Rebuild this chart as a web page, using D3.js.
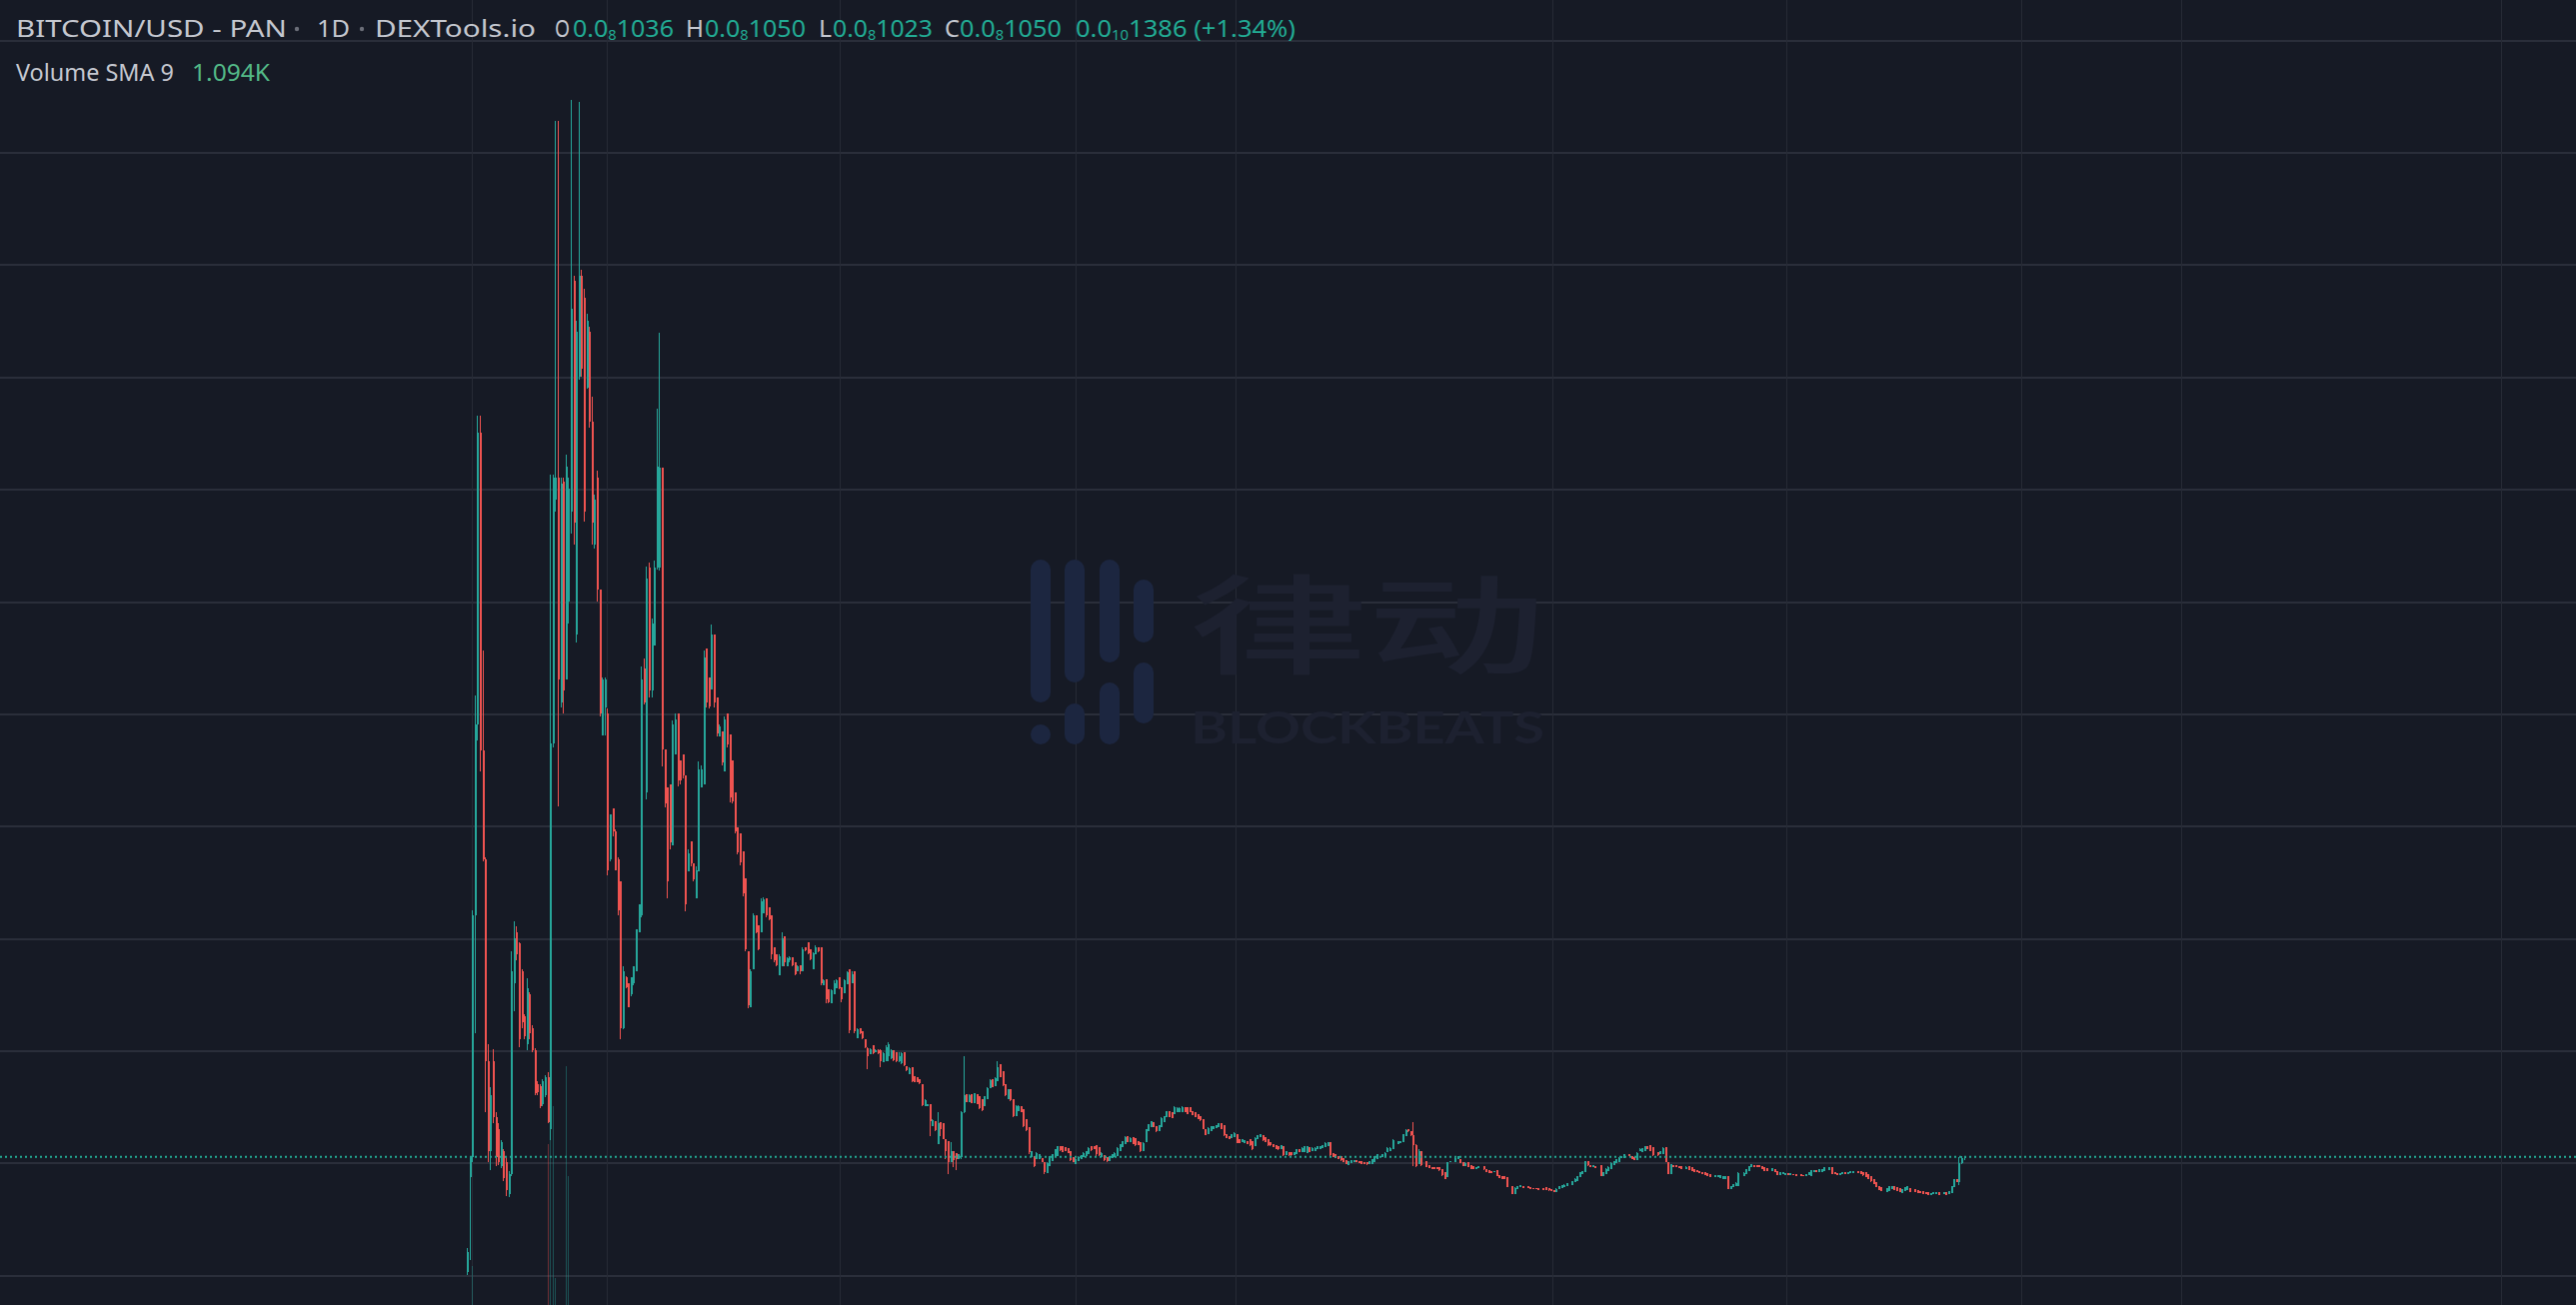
<!DOCTYPE html>
<html><head><meta charset="utf-8">
<script src="https://cdn.jsdelivr.net/npm/d3@7"></script>
<style>
html,body{margin:0;padding:0;background:#161a25;overflow:hidden}
svg{display:block}
</style></head><body>
<svg id="chart" width="2577" height="1306"></svg>
<script>
// ---------------- DATA (price in units of 1e-9 USD) ----------------
// [open, high, low, close]
const candlesLaunch = [
[0.02,0.24,0.0,0.2],[0.87,1.05,0.13,1.05],[1.05,3.25,1.0,3.2],[3.2,5.16,2.15,4.9],[4.9,7.65,4.76,7.5],
[7.5,7.65,4.48,4.67],[4.67,5.56,3.68,3.7],[3.7,3.72,1.45,1.9],[1.9,2.05,1.0,1.1],[1.1,1.67,0.93,1.6],
[1.9,2.01,1.35,1.4],[1.4,1.45,0.97,1.05],[1.3,1.35,0.98,1.0],[0.97,1.2,0.95,1.18],[1.1,1.12,0.83,0.86],
[1.0,1.05,0.7,0.75],[0.72,0.92,0.69,0.9],[0.9,2.88,0.88,2.7],[2.6,3.15,2.35,3.0],[3.05,3.1,2.8,2.85],
[2.95,2.96,2.03,2.1],[2.7,2.72,2.2,2.25],[2.3,2.32,2.1,2.12],[2.05,2.64,2.0,2.55],[2.5,2.52,2.1,2.15],
[2.2,2.22,1.98,2.0],[2.0,2.02,1.6,1.62],[1.7,1.72,1.6,1.63],[1.68,1.7,1.48,1.5],[1.52,1.74,1.5,1.72],
[1.6,1.78,1.58,1.76],[1.76,1.8,1.35,1.36],[1.3,7.13,1.2,4.73],[4.73,7.13,4.7,7.1],[6.9,10.28,6.8,7.1],
[7.1,10.28,4.17,5.3],[5.1,7.1,5.05,7.05],[7.06,7.1,5.0,5.2],[5.3,7.3,5.3,7.2],[6.0,7.1,5.8,7.0],
[6.8,10.46,6.6,8.6],[8.85,8.9,6.5,6.7],[5.7,8.5,5.63,8.4],[8.0,10.45,7.97,8.9],[8.9,8.95,8.0,8.07],
[8.7,8.78,6.71,6.8],[7.9,8.56,7.89,8.5],[8.4,8.44,7.54,7.6],[7.6,7.82,6.5,6.7],[6.5,6.95,6.47,6.9],
[7.1,7.16,6.0,6.1],[6.1,6.1,4.97,5.0],[4.8,5.32,4.8,5.3],[5.05,5.32,4.8,5.3],[5.0,5.04,3.56,3.6],
[3.7,4.1,3.68,4.1],[4.15,4.15,3.9,3.95],[3.95,3.97,3.6,3.6],[3.7,3.72,3.2,3.25],[3.5,3.5,2.1,2.2],
[2.2,2.75,2.19,2.7],[2.65,2.66,2.55,2.56],[2.6,2.6,2.38,2.38],[2.5,2.65,2.48,2.65],[2.6,2.75,2.58,2.75],
[2.7,3.08,2.7,3.08],[3.05,3.3,3.05,3.3],[3.2,5.42,3.18,5.3],[5.4,5.49,5.08,5.1],[4.3,6.31,4.23,6.2],
[6.3,6.34,5.14,5.2],[5.2,5.84,5.14,5.8],[5.6,6.36,5.6,6.3],[6.3,7.71,6.28,7.2],[6.3,8.39,6.27,7.19]
];
const candlesSlide = [
[7.19,7.19,4.53,4.68],[4.68,4.68,4.16,4.2],[4.34,4.34,3.35,3.5],[4.37,4.37,3.79,3.85],[3.82,4.94,3.82,4.9],
[4.63,5.0,4.63,4.95],[5.0,5.0,4.35,4.4],[4.58,4.58,4.37,4.4],[4.63,4.63,4.42,4.45],[4.45,4.45,3.24,3.3],
[3.59,3.79,3.59,3.75],[3.86,3.86,3.64,3.66],[3.66,3.66,3.5,3.52],[3.35,3.64,3.35,3.6],[3.59,4.57,3.59,4.5],
[4.34,4.54,4.34,4.5],[4.37,5.56,4.37,5.5],[5.58,5.58,5.05,5.1],[5.32,5.32,5.04,5.06],[5.21,5.79,5.21,5.7],
[5.7,5.7,5.05,5.1],[5.14,5.14,4.79,4.82],[4.79,4.9,4.79,4.88],[4.84,4.84,4.54,4.56],[4.48,4.97,4.48,4.95],
[5.0,5.0,4.7,4.72],[4.81,4.81,4.21,4.25],[4.58,4.58,4.2,4.22],[4.3,4.3,3.93,3.95],[3.98,3.98,3.74,3.76],
[3.93,3.93,3.65,3.67],[3.77,3.77,3.37,3.4],[3.53,3.53,2.88,2.9],[2.88,2.88,2.37,2.4],[2.38,2.72,2.38,2.7],
[2.72,3.22,2.72,3.2],[3.2,3.2,3.04,3.05],[3.11,3.11,2.89,2.9],[3.05,3.35,3.05,3.33],[3.22,3.36,3.22,3.34],
[3.35,3.35,3.18,3.2],[3.27,3.27,3.16,3.17],[3.2,3.2,2.81,2.85],[2.92,2.92,2.78,2.8],[2.85,2.85,2.75,2.76],
[2.67,2.85,2.67,2.84],[2.75,3.05,2.75,3.0],[3.01,3.01,2.75,2.78],[2.75,2.83,2.75,2.82],[2.8,2.84,2.78,2.83],
[2.83,2.83,2.75,2.76],[2.78,2.78,2.67,2.68],[2.7,2.76,2.7,2.75],[2.76,2.76,2.68,2.7],[2.7,2.92,2.7,2.9],
[2.92,2.92,2.88,2.89],[2.96,2.96,2.85,2.86],[2.9,2.9,2.8,2.81],[2.72,2.87,2.72,2.86],[2.85,2.93,2.85,2.92],
[2.92,2.92,2.87,2.88],[2.92,2.92,2.58,2.6],[2.58,2.63,2.58,2.62],[2.63,2.63,2.42,2.45],[2.54,2.54,2.42,2.43],
[2.42,2.54,2.42,2.53],[2.5,2.62,2.5,2.6],[2.55,2.63,2.55,2.62],[2.65,2.65,2.54,2.55],[2.56,2.56,2.43,2.45],
[2.51,2.63,2.51,2.62],[2.59,2.7,2.59,2.69],[2.72,2.72,2.15,2.18],[2.6,2.7,2.6,2.68],[2.7,2.7,2.15,2.17],
[2.11,2.2,2.11,2.19]
];
const candlesDrift = [
[2.2,2.2,2.14,2.15],[2.17,2.17,2.1,2.11],[2.1,2.1,2.02,2.03],[2.02,2.03,1.83,1.95],[1.96,2.02,1.96,2.01],
[2.04,2.04,1.96,1.97],[1.98,2.01,1.98,2.0],[2.0,2.01,1.96,1.97],[2.0,2.01,1.85,1.9],[1.89,1.98,1.89,1.97],
[1.9,2.04,1.9,2.03],[1.95,2.07,1.9,2.05],[1.93,2.01,1.92,2.0],[2.0,2.0,1.9,1.91],[1.98,1.98,1.89,1.9],
[1.9,1.98,1.89,1.95],[1.88,1.98,1.875,1.97],[1.98,1.98,1.86,1.87],[1.86,1.86,1.816,1.82],[1.786,1.845,1.786,1.84],
[1.845,1.845,1.712,1.72],[1.77,1.77,1.712,1.715],[1.757,1.757,1.712,1.714],[1.742,1.742,1.7,1.702],[1.7,1.7,1.504,1.51],
[1.5,1.56,1.5,1.555],[1.5,1.52,1.5,1.518],[1.52,1.52,1.237,1.37],[1.326,1.386,1.326,1.38],[1.371,1.371,1.282,1.285],
[1.163,1.445,1.163,1.35],[1.356,1.356,1.237,1.3],[1.35,1.35,1.208,1.21],[1.208,1.208,1.03,1.1],[1.193,1.193,0.896,1.0],
[1.0,1.178,1.0,1.1],[1.104,1.104,0.956,1.02],[1.08,1.08,0.93,1.03],[1.03,1.074,1.03,1.07],[1.05,1.46,1.03,1.45],
[1.45,1.943,1.44,1.6],[1.608,1.608,1.534,1.54],[1.534,1.608,1.534,1.6],[1.608,1.608,1.528,1.53],[1.53,1.62,1.53,1.615],
[1.608,1.608,1.519,1.52],[1.593,1.593,1.475,1.48],[1.564,1.564,1.46,1.465],[1.504,1.593,1.504,1.59],[1.564,1.668,1.564,1.665],
[1.66,1.74,1.66,1.735],[1.742,1.742,1.668,1.67],[1.682,1.757,1.682,1.755],[1.727,1.9,1.727,1.85],[1.875,1.875,1.757,1.76],
[1.816,1.816,1.682,1.69],[1.697,1.697,1.593,1.6],[1.564,1.653,1.564,1.65],[1.653,1.653,1.549,1.555],[1.564,1.564,1.4,1.41],
[1.41,1.51,1.41,1.5],[1.46,1.51,1.46,1.505],[1.504,1.504,1.445,1.45],[1.475,1.475,1.312,1.32],[1.386,1.386,1.282,1.29],
[1.312,1.312,1.074,1.09],[1.045,1.104,1.045,1.1],[1.06,1.06,0.956,0.97],[1.03,1.089,1.03,1.085],[1.03,1.074,1.03,1.07],
[1.036,1.036,1.0,1.005],[1.0,1.0,0.896,0.91],[0.905,1.0,0.905,0.995],[0.97,1.06,0.97,1.055],[1.015,1.074,1.015,1.07],
[1.045,1.119,1.045,1.115],[1.06,1.148,1.06,1.145],[1.148,1.148,1.104,1.106],[1.148,1.148,1.089,1.09],[1.134,1.134,1.104,1.105],
[1.125,1.125,1.083,1.085],[1.104,1.104,1.015,1.02],[1.045,1.045,1.0,1.002],[0.985,1.036,0.985,1.033],[1.015,1.054,1.015,1.05],
[1.03,1.066,1.03,1.063],[1.045,1.089,1.045,1.087],[1.06,1.104,1.06,1.1],[1.074,1.134,1.074,1.13],[1.148,1.148,1.104,1.106],
[1.148,1.148,1.119,1.12],[1.154,1.154,1.06,1.07],[1.134,1.134,1.06,1.062],[1.045,1.089,1.045,1.087],[1.066,1.066,1.015,1.018],
[1.045,1.045,1.006,1.008],[1.015,1.06,1.015,1.058],[1.036,1.074,1.036,1.072],[1.045,1.089,1.045,1.087],[1.06,1.134,1.06,1.13],
[1.104,1.163,1.104,1.16],[1.134,1.193,1.134,1.19],[1.163,1.231,1.163,1.228],[1.231,1.231,1.178,1.18],[1.178,1.223,1.178,1.22],
[1.223,1.223,1.163,1.165],[1.214,1.214,1.148,1.15],[1.193,1.193,1.154,1.156],[1.178,1.178,1.095,1.1],[1.104,1.178,1.104,1.175],
[1.178,1.297,1.178,1.295],[1.282,1.341,1.282,1.338],[1.312,1.371,1.312,1.368],[1.356,1.356,1.312,1.314],[1.326,1.326,1.273,1.276],
[1.282,1.332,1.282,1.33],[1.312,1.4,1.312,1.397],[1.356,1.415,1.356,1.412],[1.4,1.46,1.4,1.457],[1.46,1.46,1.4,1.403],
[1.445,1.445,1.392,1.395],[1.43,1.498,1.43,1.495],[1.445,1.49,1.445,1.487],[1.445,1.49,1.445,1.487],[1.445,1.498,1.445,1.495],
[1.49,1.49,1.45,1.452],[1.49,1.49,1.43,1.432],[1.49,1.49,1.445,1.447],[1.46,1.46,1.42,1.422],[1.445,1.445,1.4,1.402],
[1.43,1.43,1.386,1.388],[1.415,1.415,1.371,1.373],[1.386,1.386,1.297,1.3],[1.297,1.297,1.243,1.245],[1.252,1.312,1.252,1.31],
[1.282,1.326,1.282,1.324],[1.297,1.326,1.297,1.324],[1.303,1.332,1.303,1.33],[1.312,1.35,1.312,1.348],[1.35,1.35,1.297,1.3],
[1.332,1.332,1.237,1.24],[1.252,1.252,1.214,1.216],[1.237,1.237,1.208,1.21],[1.214,1.252,1.214,1.25],[1.223,1.267,1.223,1.265],
[1.252,1.252,1.172,1.175],[1.208,1.208,1.172,1.174],[1.178,1.208,1.178,1.206],[1.172,1.202,1.172,1.2],[1.193,1.193,1.163,1.165],
[1.208,1.208,1.148,1.15],[1.193,1.193,1.113,1.116],[1.148,1.223,1.148,1.22],[1.208,1.243,1.208,1.24],[1.223,1.252,1.223,1.25],
[1.243,1.243,1.193,1.195],[1.223,1.223,1.178,1.18],[1.208,1.208,1.148,1.15],[1.178,1.178,1.148,1.15],[1.163,1.163,1.134,1.136],
[1.154,1.154,1.119,1.121],[1.148,1.148,1.113,1.115],[1.119,1.154,1.119,1.152],[1.148,1.148,1.06,1.065],[1.066,1.104,1.066,1.1],
[1.095,1.095,1.06,1.062],[1.089,1.089,1.06,1.062],[1.066,1.095,1.066,1.093],[1.074,1.119,1.074,1.117],[1.119,1.119,1.089,1.091],
[1.089,1.134,1.089,1.132],[1.095,1.148,1.095,1.146],[1.083,1.148,1.083,1.146],[1.134,1.134,1.089,1.091],[1.104,1.134,1.104,1.132],
[1.104,1.134,1.104,1.132],[1.119,1.148,1.119,1.146],[1.119,1.148,1.119,1.146],[1.125,1.154,1.125,1.152],[1.134,1.178,1.134,1.176],
[1.148,1.184,1.148,1.182],[1.178,1.178,1.06,1.065],[1.083,1.083,1.045,1.047],[1.074,1.074,1.036,1.038],[1.06,1.06,1.03,1.032],
[1.054,1.054,1.015,1.017],[1.036,1.036,1.0,1.002],[1.024,1.024,0.985,0.987],[0.98,1.015,0.98,1.013],[0.994,1.024,0.994,1.022],
[1.0,1.024,1.0,1.022],[1.018,1.018,1.0,1.002],[1.015,1.015,0.994,0.996],[1.015,1.015,0.985,0.987],[1.006,1.006,0.985,0.987],
[1.0,1.0,0.98,0.982],[0.985,1.015,0.985,1.013],[0.985,1.03,0.985,1.028],[1.0,1.06,1.0,1.058],[1.03,1.074,1.03,1.072]
];
// null = day without a printed candle
const candlesTail = [
null,
[1.05,1.074,1.045,1.07],[1.045,1.089,1.045,1.085],[1.089,1.134,1.089,1.13],[1.104,1.134,1.104,1.13],[1.119,1.208,1.119,1.2],
null,
[1.163,1.193,1.163,1.19],[1.172,1.193,1.172,1.19],[1.178,1.252,1.178,1.25],[1.237,1.297,1.237,1.29],[1.297,1.297,1.273,1.28],
[1.282,1.282,1.237,1.24],[1.24,1.356,0.97,1.15],[1.15,1.16,0.956,0.97],[0.985,1.119,0.985,1.1],[1.104,1.104,0.97,0.98],
null,
[1.015,1.015,0.956,0.96],[0.976,0.976,0.947,0.95],[0.956,0.956,0.941,0.942],[0.956,0.956,0.941,0.942],[0.955,0.956,0.941,0.943],
[0.956,0.956,0.926,0.93],[0.941,0.941,0.881,0.885],[0.911,0.911,0.852,0.855],[0.867,1.006,0.867,1.0],[1.0,1.015,1.0,1.012],
null,
[1.0,1.045,1.0,1.04],[1.03,1.06,1.03,1.055],[1.03,1.03,0.994,0.996],[1.006,1.006,0.964,0.966],[0.97,1.0,0.97,0.998],
[1.0,1.0,0.956,0.958],[0.976,0.976,0.941,0.944],[0.964,0.964,0.941,0.943],[0.941,0.961,0.941,0.96],[0.947,0.97,0.947,0.968],
null,
[0.964,0.964,0.935,0.937],[0.941,0.941,0.917,0.918],[0.932,0.932,0.905,0.907],[0.926,0.926,0.905,0.906],[0.911,0.926,0.911,0.925],
[0.932,0.932,0.876,0.88],[0.887,0.887,0.858,0.86],[0.881,0.881,0.852,0.854],[0.876,0.876,0.852,0.853],[0.867,0.867,0.778,0.78],
null,
[0.792,0.792,0.718,0.72],[0.718,0.778,0.718,0.775],[0.763,0.792,0.763,0.79],[0.778,0.798,0.778,0.796],[0.792,0.792,0.775,0.776],
null,
[0.786,0.786,0.769,0.77],[0.778,0.778,0.763,0.764],[0.775,0.775,0.763,0.764],[0.772,0.772,0.76,0.761],[0.769,0.769,0.757,0.758],
null,
[0.769,0.769,0.757,0.758],[0.778,0.778,0.757,0.758],[0.769,0.769,0.748,0.75],[0.763,0.763,0.748,0.749],[0.757,0.757,0.739,0.74],
[0.739,0.769,0.739,0.767],[0.763,0.786,0.763,0.785],[0.769,0.798,0.769,0.796],[0.781,0.804,0.781,0.802],[0.792,0.816,0.792,0.815],
null,
[0.798,0.837,0.798,0.835],[0.822,0.858,0.822,0.856],[0.837,0.881,0.837,0.88],[0.867,0.911,0.867,0.91],[0.896,0.926,0.896,0.925],
[0.911,1.015,0.911,1.01],[1.015,1.015,0.97,0.972],[0.976,0.976,0.956,0.957],[0.956,0.976,0.956,0.975],[0.97,0.97,0.947,0.948],
null,
[0.976,0.976,0.876,0.88],[0.876,0.911,0.876,0.91],[0.896,0.947,0.896,0.945],[0.926,0.964,0.926,0.962],[0.941,1.0,0.941,0.998],
[0.976,1.015,0.976,1.013],[0.994,1.03,0.994,1.028],[1.006,1.045,1.006,1.043],[1.036,1.06,1.036,1.058],[1.042,1.071,1.042,1.07],
null,
[1.071,1.071,1.054,1.055],[1.06,1.06,1.03,1.031],[1.045,1.045,1.024,1.025],[1.024,1.089,1.024,1.087],[1.104,1.125,1.104,1.123],
[1.089,1.125,1.089,1.124],[1.104,1.148,1.104,1.146],[1.148,1.148,1.119,1.12],[1.154,1.154,1.104,1.105],[1.134,1.134,1.06,1.062],
null,
[1.089,1.089,1.06,1.061],[1.074,1.104,1.074,1.102],[1.074,1.134,1.074,1.132],[1.134,1.134,1.0,1.002],[1.0,1.0,0.896,0.9],
[0.896,0.985,0.896,0.983],[0.976,0.976,0.956,0.957],[0.976,0.976,0.956,0.957],[0.97,0.97,0.947,0.948],[0.964,0.964,0.941,0.942],
null,
[0.941,0.964,0.941,0.962],[0.964,0.964,0.935,0.936],[0.956,0.956,0.926,0.927],[0.941,0.941,0.917,0.918],[0.932,0.932,0.911,0.912],
[0.926,0.926,0.905,0.906],[0.917,0.917,0.896,0.897],[0.911,0.911,0.887,0.888],[0.902,0.902,0.881,0.882],[0.896,0.896,0.867,0.868],
null,
[0.867,0.887,0.867,0.886],[0.867,0.887,0.867,0.886],[0.858,0.887,0.858,0.885],[0.852,0.881,0.852,0.88],[0.852,0.881,0.852,0.88],
[0.881,0.881,0.763,0.765],[0.763,0.792,0.763,0.79],[0.778,0.807,0.778,0.805],[0.792,0.822,0.792,0.82],[0.792,0.911,0.792,0.908],
null,
[0.881,0.911,0.881,0.909],[0.896,0.941,0.896,0.94],[0.926,0.97,0.926,0.968],[0.956,0.985,0.956,0.983],[0.976,0.976,0.964,0.965],
[0.976,0.976,0.964,0.965],[0.976,0.976,0.956,0.957],[0.97,0.97,0.941,0.942],[0.956,0.956,0.926,0.927],[0.947,0.947,0.926,0.927],
null,
[0.926,0.947,0.926,0.946],[0.941,0.941,0.911,0.912],[0.926,0.926,0.887,0.888],[0.887,0.911,0.887,0.91],[0.896,0.911,0.896,0.91],
[0.893,0.905,0.893,0.904],[0.905,0.905,0.893,0.894],[0.89,0.902,0.89,0.901],[0.899,0.899,0.887,0.888],[0.896,0.896,0.881,0.882],
null,
[0.893,0.893,0.881,0.882],[0.89,0.89,0.881,0.882],[0.881,0.896,0.881,0.895],[0.887,0.911,0.887,0.91],[0.881,0.932,0.881,0.93],
[0.911,0.935,0.911,0.934],[0.935,0.935,0.911,0.912],[0.911,0.941,0.911,0.94],[0.917,0.941,0.917,0.94],[0.926,0.956,0.926,0.955],
null,
[0.932,0.956,0.932,0.955],[0.961,0.961,0.896,0.897],[0.911,0.911,0.896,0.897],[0.905,0.905,0.887,0.888],[0.887,0.905,0.887,0.904],
[0.893,0.911,0.893,0.91],[0.911,0.911,0.893,0.894],[0.893,0.917,0.893,0.916],[0.905,0.923,0.905,0.922],[0.905,0.923,0.905,0.922],
null,
[0.923,0.923,0.905,0.906],[0.923,0.923,0.896,0.897],[0.917,0.917,0.881,0.883],[0.911,0.911,0.867,0.868],[0.896,0.896,0.852,0.853],
[0.876,0.876,0.828,0.83],[0.852,0.852,0.807,0.808],[0.822,0.822,0.778,0.779],[0.792,0.792,0.757,0.758],[0.778,0.778,0.748,0.749],
null,
[0.733,0.769,0.733,0.768],[0.748,0.792,0.748,0.79],[0.763,0.792,0.763,0.79],[0.786,0.786,0.757,0.758],[0.778,0.778,0.748,0.749],
[0.769,0.769,0.739,0.74],[0.727,0.763,0.727,0.762],[0.748,0.778,0.748,0.777],[0.757,0.792,0.757,0.79],[0.769,0.769,0.739,0.74],
null,
[0.763,0.763,0.733,0.734],[0.757,0.757,0.727,0.728],[0.748,0.748,0.727,0.728],[0.748,0.748,0.718,0.719],[0.739,0.739,0.718,0.719],
[0.733,0.733,0.709,0.71],[0.709,0.727,0.709,0.726],[0.715,0.733,0.715,0.732],[0.718,0.733,0.718,0.732],[0.733,0.733,0.712,0.713],
null,
[0.715,0.733,0.715,0.732],[0.733,0.733,0.709,0.71],[0.718,0.748,0.718,0.747],[0.727,0.792,0.727,0.79],[0.778,0.852,0.778,0.85],
[0.852,0.852,0.822,0.825],[0.825,1.05,0.8,0.99],[0.99,1.06,0.985,1.04],[1.036,1.05,1.023,1.05]
];
// volume (thousands) for the days where a volume bar is visible: [day, volume]
const volumeBars = [[2,45],[31,167],[32,205],[33,205],[34,33],[38,245],[39,135]];
// price grid levels (1e-9 USD) and month-start positions (day index from first bar)
const priceGrid = [0,1,2,3,4,5,6,7,8,9,10,11];
const monthTickDays = [1.8,53.7,143.4,234.4,295.8,417.7,507.5,597.9,659.8,782.5];
const lastPrice = 1.05;
// header texts
const titleParts = ['BITCOIN/USD - PAN','1D','DEXTools.io'];
const ohlcLetters = ['O','H','L','C'];
const ohlcValues = [['0.0','8','1036'],['0.0','8','1050'],['0.0','8','1023'],['0.0','8','1050']];
const changeText = [['0.0','10','1386 (+1.34%)']];
const volumeLabel = 'Volume SMA 9';
const volumeSma = '1.094K';
const watermarkCn = '律动';
const watermarkEn = 'BLOCKBEATS';

// ---------------- RENDER ----------------
const W = 2577, H = 1306;
const UP = '#26a69a', DOWN = '#ef5350';
const svg = d3.select('#chart');
svg.append('rect').attr('width',W).attr('height',H).attr('fill','#161a25');

const all = [].concat(candlesLaunch, candlesSlide, candlesDrift, candlesTail);
const N = all.length;
const candles = all.map((c,i)=> c ? {i, o:c[0], h:c[1], l:c[2], c:c[3]} : null).filter(Boolean);

const x = d3.scaleLinear().domain([0, N-1]).range([467, 467 + 2.6*(N-1)]);
const y = d3.scaleLinear().domain([0, 11]).range([1275.7, 39.7]);
const yVol = d3.scaleLinear().domain([0, 250]).range([1312, 1062]);

// grid
const grid = svg.append('g').attr('shape-rendering','crispEdges');
grid.selectAll('line.h').data(priceGrid).join('line').attr('class','h')
  .attr('x1',0).attr('x2',W)
  .attr('y1',d=>Math.round(y(d))+0.5).attr('y2',d=>Math.round(y(d))+0.5)
  .attr('stroke','#2a2e3a').attr('stroke-width',2);
grid.selectAll('line.v').data(monthTickDays).join('line').attr('class','v')
  .attr('x1',d=>Math.round(x(d))+0.5).attr('x2',d=>Math.round(x(d))+0.5)
  .attr('y1',0).attr('y2',H)
  .attr('stroke','#262a35').attr('stroke-width',1.5);

// watermark (BlockBeats)
const wm = svg.append('g');
const pills = [[1031,560,703],[1031,725,745],[1065,560,683],[1065,704,745],[1100,560,663],[1100,683,745],[1134,580,643],[1134,663,724]];
wm.selectAll('rect').data(pills).join('rect')
  .attr('x',d=>d[0]).attr('y',d=>d[1]).attr('width',20).attr('height',d=>d[2]-d[1])
  .attr('rx',10).attr('fill','#1c2640');
wm.append('text').attr('x',1190).attr('y',666).attr('font-family','"Noto Sans CJK SC"')
  .attr('font-size',108).attr('font-weight',500).attr('fill','#1d2130')
  .attr('textLength',356).attr('lengthAdjust','spacingAndGlyphs').text(watermarkCn);
wm.append('text').attr('x',1191).attr('y',744).attr('font-family','Lato, "Noto Sans"')
  .attr('font-size',43).attr('font-weight',700).attr('fill','#1d2130')
  .attr('textLength',354).attr('lengthAdjust','spacingAndGlyphs').text(watermarkEn);

// volume bars
const byDay = new Map(candles.map(d=>[d.i,d]));
svg.append('g').selectAll('line').data(volumeBars).join('line')
  .attr('x1',d=>Math.round(x(d[0]))+0.5).attr('x2',d=>Math.round(x(d[0]))+0.5)
  .attr('y1',yVol(0)).attr('y2',d=>yVol(d[1]))
  .attr('stroke',d=>{const c=byDay.get(d[0]); return c && c.c<c.o ? DOWN : UP;})
  .attr('stroke-opacity',0.4).attr('stroke-width',1);

// candles
const cg = svg.append('g').attr('shape-rendering','crispEdges');
cg.selectAll('line').data(candles).join('line')
  .attr('x1',d=>Math.round(x(d.i))+0.5).attr('x2',d=>Math.round(x(d.i))+0.5)
  .attr('y1',d=>y(d.h)).attr('y2',d=>y(d.l))
  .attr('stroke',d=>d.c>=d.o?UP:DOWN).attr('stroke-width',1);
cg.selectAll('rect').data(candles).join('rect')
  .attr('x',d=>Math.round(x(d.i))-0.5).attr('width',2)
  .attr('y',d=>y(Math.max(d.o,d.c)))
  .attr('height',d=>Math.max(1.5, Math.abs(y(d.o)-y(d.c))))
  .attr('fill',d=>d.c>=d.o?UP:DOWN);

// last price dotted line
svg.append('line').attr('x1',0).attr('x2',W)
  .attr('y1',y(lastPrice)).attr('y2',y(lastPrice))
  .attr('stroke','#22ab94').attr('stroke-width',2).attr('stroke-dasharray','2 3');

// header
const FONT = '"Noto Sans", Roboto, sans-serif';
const GRAY = '#c4c7cf', TEAL = '#22ab94';
function txt(xp, yp, w, parts, fill, size){
  const t = svg.append('text').attr('x',xp).attr('y',yp).attr('font-family',FONT)
    .attr('font-size',size||23).attr('fill',fill)
    .attr('textLength',w).attr('lengthAdjust','spacingAndGlyphs');
  if (typeof parts === 'string') { t.text(parts); return t; }
  t.append('tspan').text(parts[0]);
  t.append('tspan').attr('font-size',14).attr('dy',3).text(parts[1]);
  t.append('tspan').attr('dy',-3).text(parts[2]);
  return t;
}
const titleLayout = [[16,271],[317,33],[375,161]];
titleParts.forEach((s,k)=>txt(titleLayout[k][0],37,titleLayout[k][1],s,GRAY,24));
svg.selectAll('circle.sep').data([297,362]).join('circle').attr('class','sep')
  .attr('cx',d=>d).attr('cy',29).attr('r',2.2).attr('fill','#6b6e78');
const letterLayout = [[555,15],[686,18],[819,13],[945,15]];
const valueLayout = [[573,101],[705,101],[833,100],[960,102]];
ohlcLetters.forEach((s,k)=>{
  txt(letterLayout[k][0],37,letterLayout[k][1],s,GRAY,24);
  txt(valueLayout[k][0],37,valueLayout[k][1],ohlcValues[k],TEAL,24);
});
txt(1076,37,220,changeText[0],TEAL,24);
txt(16,81,158,volumeLabel,GRAY,23);
txt(192,81,78,volumeSma,'#53b987',23);
</script>
</body></html>
